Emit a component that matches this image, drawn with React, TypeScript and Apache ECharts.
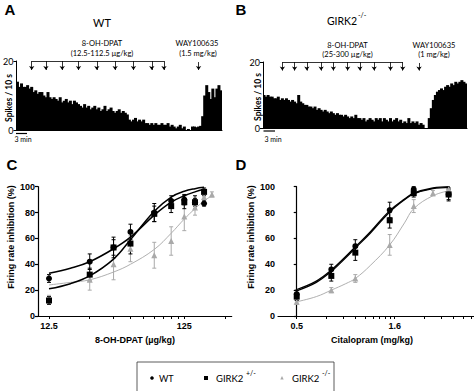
import { useEffect, useRef } from "react";
import * as echarts from "echarts";

// ---- Panel A / B: firing-rate histograms (spikes per 10 s bin) ----
const histWT = [14, 12.5, 13.5, 12.5, 12.5, 13, 12, 12.5, 11, 11.5, 10.5, 11, 11, 10, 9.5, 11, 9.5, 9, 9.5, 9, 8.5, 9.5, 8, 8.5, 9, 8, 8.5, 7.5, 8.5, 8, 7.5, 7, 6.5, 7.5, 6.5, 7, 6, 6.5, 7, 6, 6.5, 5.5, 6, 7, 5.5, 6, 6.5, 5.5, 5, 5.5, 6, 5, 5.5, 5, 4.5, 3, 2.5, 3, 3.5, 2.5, 3, 2.5, 3, 2, 2, 1.5, 2, 1.5, 2, 1.5, 1.5, 2, 1.5, 1.5, 2, 1, 1.5, 1, 0.5, 1, 1.5, 0.5, 1, 0, 0.3, 0, 1, 1, 0.8, 1, 1.2, 4, 10, 13, 11, 9, 12, 9.5, 12, 13, 11.5];
const histKO = [10, 9.5, 10, 9.5, 9.5, 9, 9, 9.5, 8.5, 9, 8.5, 9, 8.5, 8, 8.5, 8, 7.5, 10, 8, 7.5, 7, 7, 6.5, 6.5, 6, 6.5, 5.5, 6, 5.5, 5, 5.5, 5, 4.5, 5, 4.5, 4, 4.5, 4, 4, 3.5, 4, 3.5, 3, 3.5, 3, 4, 3, 3, 2.5, 3, 2, 2.5, 3, 2.5, 2, 3, 2.5, 3, 2, 3, 2.5, 2, 3, 2, 2.5, 3, 2, 2.5, 1.5, 2, 1.5, 3, 1.5, 2, 1.5, 2, 1, 1.5, 1, 0, 0, 3, 6, 8.5, 10, 11, 11.5, 12, 11.5, 12.5, 13, 12.5, 13.5, 13, 14, 13.5, 14, 14.5, 14, 13.5];
const injBinsWT = [7, 14, 22, 30, 39, 48, 57, 66, 72];
const wayBinWT = 89;
const injBinsKO = [9, 15, 21, 28, 34, 41, 47, 54, 62, 68];
const wayBinKO = 76;

// ---- Panel C: 8-OH-DPAT dose-response ----
const dpatDoses = [12.5, 25, 37.5, 50, 75, 100, 125, 150, 175];
const dpatDosesKO = [12.5, 25, 37.5, 50, 75, 100, 125, 150, 175, 200];
const dpatWT = [29, 42, 53, 65, 80, 89, 90, 88, 87];
const dpatWTErr = [3, 6, 8, 6, 7, 4, 4, 3, 2];
const dpatHet = [12, 32, 53, 56, 79, 85, 88, 88, 96];
const dpatHetErr = [3, 5, 6, 8, 6, 5, 5, 5, 3];
const dpatKO = [13, 28, 40, 52, 47, 58, 77, 84, 92, 94];
const dpatKOErr = [3, 8, 12, 10, 10, 11, 11, 6, 4, 2];
const dpatFitDoses = [12.5, 18, 25, 37.5, 50, 75, 100, 125, 150, 175];
const dpatFitWT = [33, 37, 42, 52, 61, 78, 88, 93, 96, 98];
const dpatFitHet = [21, 25, 31, 44, 59, 81, 92, 96.5, 98.5, 99.5];
const dpatFitDosesKO = [12.5, 18, 25, 37.5, 50, 75, 100, 125, 150, 175, 200];
const dpatFitKO = [24, 26, 28, 34, 40, 51.5, 64, 75, 83, 89, 93];
const dpatTickLabels = [12.5, 125];
const dpatMinorTicks = [12.5, 25, 37.5, 50, 62.5, 75, 87.5, 100, 112.5, 125, 250];

// ---- Panel D: citalopram dose-response (x in log-decades from first dose) ----
const citPos = [0, 0.353, 0.598, 0.949, 1.194, 1.55];
const citPosKO = [0, 0.353, 0.598, 0.949, 1.194, 1.39, 1.55];
const citWT = [17, 36, 54, 82, 98, 94];
const citWTErr = [3, 4, 5, 6, 2, 4];
const citHet = [15, 31, 49, 74, 95, 94];
const citHetErr = [3, 4, 6, 6, 3, 5];
const citKO = [11, 20, 29, 55, 85, 95, 98];
const citKOErr = [2, 2, 3, 8, 5, 2, 1];
const citFitPos = [0, 0.2, 0.353, 0.5, 0.598, 0.75, 0.949, 1.1, 1.194, 1.39, 1.56];
const citFitWT = [20.5, 27, 35.5, 46, 53.5, 65, 81.5, 90.5, 95, 99, 100];
const citFitHet = [19.5, 26, 34.5, 45, 52.5, 64, 80.5, 90, 94.5, 98.5, 99.5];
const citFitKO = [11, 15, 20, 25, 29, 39, 55, 72, 83, 93, 97];
const citTickLabels = ["0.5", "1.6"];
const citMinorTicks = [1, 2, 3, 4, 5, 6, 7, 8, 9, 10, 20, 30, 40, 50, 60];

const GRAY = "#a9a9a9";
const ARIAL = "Liberation Sans, Arial, sans-serif";
const CAL = "Lato, Open Sans, sans-serif";

function errSeries(xi: number, xs: number[], ys: number[], es: number[], color: string, z: number) {
  return {
    type: "custom",
    xAxisIndex: xi,
    yAxisIndex: xi,
    z,
    silent: true,
    data: xs.map((x, i) => [x, ys[i], es[i]]),
    encode: { x: 0, y: 1 },
    renderItem: (_p: any, api: any) => {
      const x = api.value(0), y = api.value(1), e = api.value(2);
      const t = api.coord([x, y + e]);
      const b = api.coord([x, y - e]);
      const w = 2;
      const st = { stroke: color, lineWidth: 1 };
      return {
        type: "group",
        children: [
          { type: "line", shape: { x1: t[0], y1: t[1], x2: b[0], y2: b[1] }, style: st },
          { type: "line", shape: { x1: t[0] - w, y1: t[1], x2: t[0] + w, y2: t[1] }, style: st },
          { type: "line", shape: { x1: b[0] - w, y1: b[1], x2: b[0] + w, y2: b[1] }, style: st },
        ],
      };
    },
  };
}

function histMarks(inj: number[], way: number, wayTop: number) {
  const data: any[] = [];
  data.push([
    { coord: [inj[0], 20], symbol: "none" },
    { coord: [inj[inj.length - 1], 20], symbol: "none" },
  ]);
  inj.forEach((b) => data.push([{ coord: [b, 20], symbol: "none" }, { coord: [b, 17.4], symbol: "arrow" }]));
  data.push([{ coord: [way, wayTop], symbol: "none" }, { coord: [way, 17.4], symbol: "arrow" }]);
  return {
    silent: true,
    symbolSize: 4,
    label: { show: false },
    lineStyle: { color: "#000", width: 0.8, type: "solid" },
    emphasis: { disabled: true },
    data,
  };
}

function txt(x: number, y: number, text: string, size: number, opts: any = {}) {
  return {
    type: "text",
    x,
    y,
    rotation: opts.rotation || 0,
    style: {
      text,
      fontSize: size,
      fontFamily: opts.font || CAL,
      fontWeight: opts.bold ? "bold" : "normal",
      fill: opts.color || "#000",
      align: opts.align || "center",
      verticalAlign: "middle",
    },
  };
}

function line(x1: number, y1: number, x2: number, y2: number, w = 1, color = "#000") {
  return { type: "line", shape: { x1, y1, x2, y2 }, style: { stroke: color, lineWidth: w } };
}

export default function App() {
  const ref = useRef<HTMLDivElement>(null);
  useEffect(() => {
    if (!ref.current) return;
    const chart = echarts.init(ref.current, undefined, { renderer: "svg" });
    const lg = Math.log10;

    const histY = (gi: number) => ({
      gridIndex: gi,
      type: "value",
      min: 0,
      max: 20,
      interval: 20,
      axisLine: { show: true, lineStyle: { color: "#000", width: 1 } },
      axisTick: { show: true, length: 3, lineStyle: { color: "#000" } },
      axisLabel: { fontSize: 9, fontFamily: CAL, color: "#000", margin: 3 },
      splitLine: { show: false },
    });
    const histX = (gi: number, n: number) => ({
      gridIndex: gi,
      type: "category",
      data: Array.from({ length: n }, (_, i) => String(i)),
      axisLine: { show: true, lineStyle: { color: "#000", width: 1 } },
      axisTick: { show: false },
      axisLabel: { show: false },
    });
    const pctY = (gi: number) => ({
      gridIndex: gi,
      type: "value",
      min: 0,
      max: 100,
      interval: 20,
      axisLine: { show: true, lineStyle: { color: "#000", width: 1.2 } },
      axisTick: { show: true, length: 3, lineStyle: { color: "#000", width: 1.2 } },
      axisLabel: { fontSize: 9, fontFamily: ARIAL, fontWeight: "bold", color: "#000", margin: 3 },
      splitLine: { show: false },
    });

    const curve = (xi: number, xs: number[], ys: number[], color: string, w: number, z: number) => ({
      type: "line",
      xAxisIndex: xi,
      yAxisIndex: xi,
      smooth: 0.4,
      showSymbol: false,
      silent: true,
      z,
      data: xs.map((x, i) => [x, ys[i]]),
      lineStyle: { color, width: w },
    });
    const pts = (xi: number, xs: number[], ys: number[], symbol: string, size: number, color: string, z: number) => ({
      type: "scatter",
      xAxisIndex: xi,
      yAxisIndex: xi,
      symbol,
      symbolSize: size,
      silent: true,
      z,
      itemStyle: { color, opacity: 1 },
      data: xs.map((x, i) => [x, ys[i]]),
    });

    const barStyle = { color: "#000" };

    const option: any = {
      animation: false,
      backgroundColor: "#fff",
      grid: [
        { left: 16, top: 61, width: 206, height: 69 },
        { left: 263, top: 62, width: 204, height: 66 },
        { left: 38, top: 186.7, width: 193.7, height: 129.3 },
        { left: 278, top: 186.7, width: 195.5, height: 129.3 },
      ],
      xAxis: [
        histX(0, histWT.length),
        histX(1, histKO.length),
        {
          gridIndex: 2,
          type: "value",
          min: 1.0156,
          max: 2.4473,
          axisLine: { show: true, lineStyle: { color: "#000", width: 1.2 } },
          axisTick: { show: true, length: 3, customValues: dpatMinorTicks.map(lg), lineStyle: { color: "#000" } },
          axisLabel: {
            customValues: dpatTickLabels.map(lg),
            formatter: (v: number) => String(+Math.pow(10, v).toPrecision(3)),
            fontSize: 9,
            fontFamily: ARIAL,
            fontWeight: "bold",
            color: "#000",
            margin: 5,
          },
          splitLine: { show: false },
        },
        {
          gridIndex: 3,
          type: "value",
          min: -0.191,
          max: 1.804,
          axisLine: { show: true, lineStyle: { color: "#000", width: 1.2 } },
          axisTick: { show: true, length: 3, customValues: citMinorTicks.map(lg), lineStyle: { color: "#000" } },
          axisLabel: {
            customValues: [0, 1],
            formatter: (v: number) => citTickLabels[Math.round(v)],
            fontSize: 9,
            fontFamily: ARIAL,
            fontWeight: "bold",
            color: "#000",
            margin: 5,
          },
          splitLine: { show: false },
        },
      ],
      yAxis: [histY(0), histY(1), pctY(2), pctY(3)],
      series: [
        {
          type: "bar",
          xAxisIndex: 0,
          yAxisIndex: 0,
          data: histWT,
          barWidth: 3,
          itemStyle: barStyle,
          silent: true,
          markLine: histMarks(injBinsWT, wayBinWT, 19.7),
        },
        {
          type: "bar",
          xAxisIndex: 1,
          yAxisIndex: 1,
          data: histKO,
          barWidth: 3,
          itemStyle: barStyle,
          silent: true,
          markLine: histMarks(injBinsKO, wayBinKO, 19.7),
        },
        // Panel C
        errSeries(2, dpatDosesKO.map(lg), dpatKO, dpatKOErr, GRAY, 2),
        errSeries(2, dpatDoses.map(lg), dpatWT, dpatWTErr, "#000", 3),
        errSeries(2, dpatDoses.map(lg), dpatHet, dpatHetErr, "#000", 3),
        curve(2, dpatFitDosesKO.map(lg), dpatFitKO, "#b0b0b0", 1, 2),
        curve(2, dpatFitDoses.map(lg), dpatFitWT, "#000", 1.5, 4),
        curve(2, dpatFitDoses.map(lg), dpatFitHet, "#000", 1.5, 4),
        pts(2, dpatDosesKO.map(lg), dpatKO, "triangle", 6, GRAY, 5),
        pts(2, dpatDoses.map(lg), dpatHet, "rect", 6, "#000", 6),
        pts(2, dpatDoses.map(lg), dpatWT, "circle", 6, "#000", 6),
        // Panel D
        errSeries(3, citPosKO, citKO, citKOErr, GRAY, 2),
        errSeries(3, citPos, citWT, citWTErr, "#000", 3),
        errSeries(3, citPos, citHet, citHetErr, "#000", 3),
        curve(3, citFitPos, citFitKO, "#b0b0b0", 1, 2),
        curve(3, citFitPos, citFitWT, "#000", 1.3, 4),
        curve(3, citFitPos, citFitHet, "#000", 1.3, 4),
        pts(3, citPosKO, citKO, "triangle", 6, GRAY, 5),
        pts(3, citPos, citHet, "rect", 6, "#000", 6),
        pts(3, citPos, citWT, "circle", 6, "#000", 6),
      ],
      graphic: [
        txt(10, 9, "A", 15, { font: ARIAL, bold: true }),
        txt(241, 9, "B", 15, { font: ARIAL, bold: true }),
        txt(12, 164, "C", 15, { font: ARIAL, bold: true }),
        txt(241, 164, "D", 15, { font: ARIAL, bold: true }),
        txt(102, 22, "WT", 11),
        txt(342, 21, "GIRK2", 10.5),
        txt(358, 14.5, "-/-", 7, { align: "left" }),
        txt(102, 43, "8-OH-DPAT", 7.5),
        txt(102, 53.5, "(12.5-112.5 µg/kg)", 7.5),
        txt(197, 43, "WAY100635", 7.5),
        txt(198, 53.5, "(1.5 mg/kg)", 7.5),
        txt(347.5, 45.5, "8-OH-DPAT", 7.5),
        txt(347.5, 54.5, "(25-300 µg/kg)", 7.5),
        txt(434, 45.5, "WAY100635", 7.5),
        txt(434, 54.5, "(1 mg/kg)", 7.5),
        txt(9, 98, "Spikes / 10 s", 8.5, { rotation: Math.PI / 2, bold: true }),
        txt(258, 97, "Spikes / 10 s", 8.5, { rotation: Math.PI / 2, bold: true }),
        line(16, 133.5, 27, 133.5, 1.2),
        txt(23, 139, "3 min", 7),
        line(263.5, 131, 275, 131, 1.2),
        txt(273, 138.5, "3 min", 7),
        txt(11, 237, "Firing rate inhibition (%)", 9, { rotation: Math.PI / 2, bold: true, font: ARIAL }),
        txt(251, 237, "Firing rate inhibition (%)", 9, { rotation: Math.PI / 2, bold: true, font: ARIAL }),
        txt(135, 340, "8-OH-DPAT (µg/kg)", 9, { bold: true, font: ARIAL }),
        txt(372, 340, "Citalopram (mg/kg)", 9, { bold: true, font: ARIAL }),
        { type: "rect", shape: { x: 137, y: 362, width: 197, height: 40 }, style: { fill: "none", stroke: "#333", lineWidth: 0.8 } },
        { type: "circle", shape: { cx: 152, cy: 378, r: 1.8 }, style: { fill: "#000" } },
        txt(159, 378, "WT", 9, { align: "left" }),
        { type: "rect", shape: { x: 204, y: 376, width: 4, height: 4 }, style: { fill: "#000" } },
        txt(216, 378, "GIRK2", 9.5, { align: "left" }),
        txt(246, 372.5, "+/-", 7, { align: "left" }),
        { type: "polygon", shape: { points: [[282, 376], [280.3, 379.5], [283.7, 379.5]] }, style: { fill: GRAY } },
        txt(292, 378, "GIRK2", 9.5, { align: "left" }),
        txt(322, 372.5, "-/-", 7, { align: "left" }),
      ],
    };
    chart.setOption(option);
    return () => chart.dispose();
  }, []);
  return (
    <div
      ref={ref}
      style={{ position: "fixed", left: 0, top: 0, width: 474, height: 391, background: "#fff" }}
    />
  );
}
